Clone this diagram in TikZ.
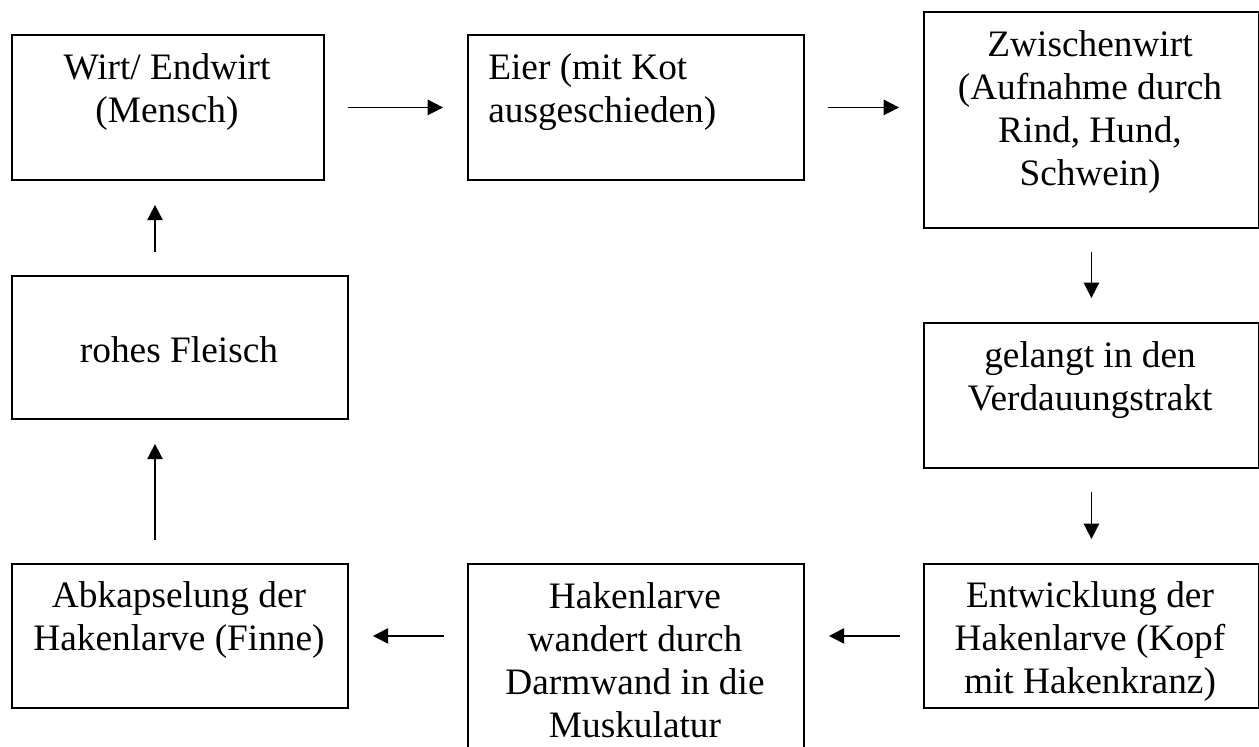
\documentclass[tikz,border=0pt]{standalone}
\usepackage{fontspec}
\setmainfont{Liberation Serif}
\usetikzlibrary{arrows.meta}
\begin{document}
\begin{tikzpicture}[x=0.75pt,y=-0.75pt,
  boxstyle/.style={draw,line width=1.4pt,rectangle,inner sep=0pt,anchor=north west},
  txt/.style={font=\fontsize{28}{32.25}\selectfont,inner sep=0pt,align=center,anchor=base},
  arr/.style={line width=1.2pt,-{Triangle[length=11.5pt,width=11.5pt]},shorten <=17.5pt,shorten >=18pt}]
\useasboundingbox (0,0) rectangle (1259,746);
\clip (0,0) rectangle (1259,746);
% boxes
\node[boxstyle,minimum width=312*0.75pt,minimum height=145*0.75pt] (b1) at (11,34) {};
\node[boxstyle,minimum width=336*0.75pt,minimum height=145*0.75pt] (b2) at (467,34) {};
\node[boxstyle,minimum width=335*0.75pt,minimum height=216*0.75pt] (b3) at (923,11) {};
\node[boxstyle,minimum width=335*0.75pt,minimum height=145*0.75pt] (b4) at (923,322) {};
\node[boxstyle,minimum width=335*0.75pt,minimum height=144*0.75pt] (b5) at (923,563) {};
\node[boxstyle,minimum width=336*0.75pt,minimum height=215*0.75pt] (b6) at (467,563) {};
\node[boxstyle,minimum width=336*0.75pt,minimum height=144*0.75pt] (b7) at (11,563) {};
\node[boxstyle,minimum width=336*0.75pt,minimum height=143*0.75pt] (b8) at (11,275) {};
% texts (base anchor = baseline of last line)
\node[txt] (t1) at (167,122) {Wirt/ Endwirt\\(Mensch)};
\node[txt,align=left,anchor=base west] (t2) at (488,122) {Eier (mit Kot\\ausgeschieden)};
\node[txt] (t3) at (1090,185) {Zwischenwirt\\(Aufnahme durch\\Rind, Hund,\\Schwein)};
\node[txt] (t4) at (1090,410) {gelangt in den\\Verdauungstrakt};
\node[txt] (t5) at (1090,693) {Entwicklung der\\Hakenlarve (Kopf\\mit Hakenkranz)};
\node[txt] (t6) at (635,737) {Hakenlarve\\wandert durch\\Darmwand in die\\Muskulatur};
\node[txt] (t7) at (179,650) {Abkapselung der\\Hakenlarve (Finne)};
\node[txt] (t8) at (179,362) {rohes Fleisch};
% arrows
\coordinate (ax) at (155,0);
\draw[arr] (b1) -- (b2);
\draw[arr] (b2.east) -- (b2.east -| b3.west);
\draw[arr] (b3.south) -- (b4.north);
\draw[arr] (b4.south) -- (b5.north);
\draw[arr] (b5.west) -- (b5.west -| b6.east);
\draw[arr] (b7.east -| b6.west) -- (b7.east);
\draw[arr] (ax |- b7.north) -- (ax |- b8.south);
\draw[arr] (ax |- b8.north) -- (ax |- b1.south);
\end{tikzpicture}
\end{document}
